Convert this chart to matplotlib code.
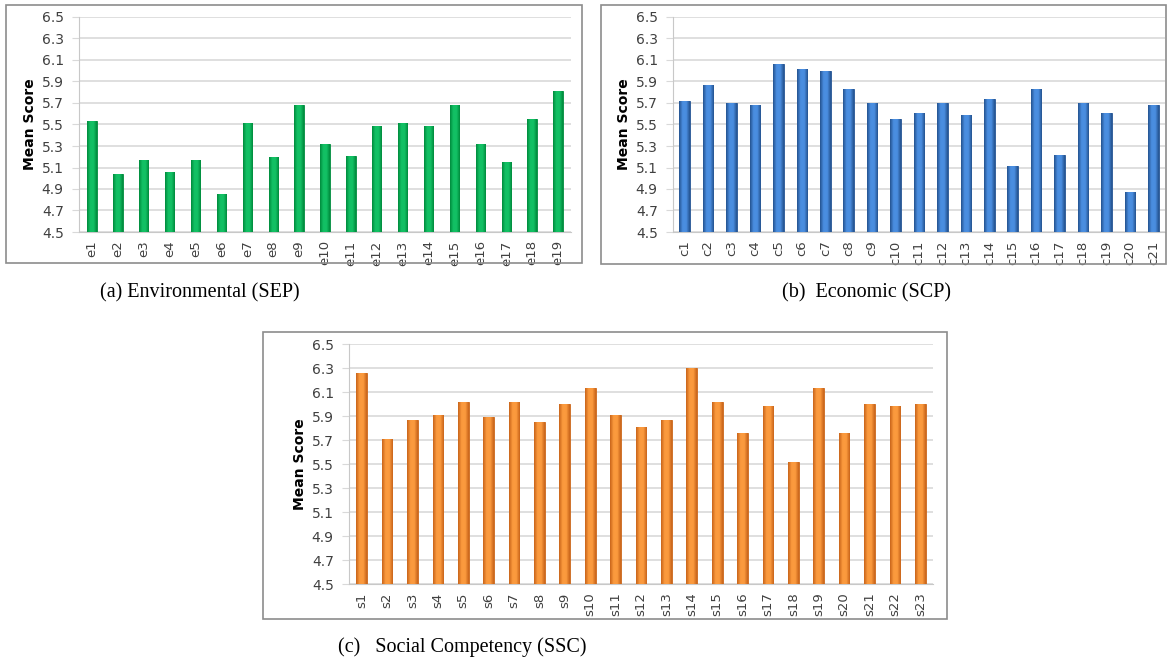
import numpy as np
import matplotlib
matplotlib.use("Agg")
from matplotlib import pyplot as plt
from matplotlib.colors import LinearSegmentedColormap
from matplotlib.patches import Rectangle

# Mean scores
env_labels = ["e%d" % i for i in range(1, 20)]
env_values = [5.53, 5.04, 5.17, 5.06, 5.17, 4.85, 5.51, 5.20, 5.68, 5.32,
              5.21, 5.49, 5.51, 5.49, 5.68, 5.32, 5.15, 5.55, 5.81]

eco_labels = ["c%d" % i for i in range(1, 22)]
eco_values = [5.72, 5.87, 5.70, 5.68, 6.06, 6.02, 6.00, 5.83, 5.70, 5.55,
              5.61, 5.70, 5.59, 5.74, 5.11, 5.83, 5.22, 5.70, 5.61, 4.87, 5.68]

soc_labels = ["s%d" % i for i in range(1, 24)]
soc_values = [6.26, 5.71, 5.87, 5.91, 6.02, 5.89, 6.02, 5.85, 6.00, 6.13,
              5.91, 5.81, 5.87, 6.30, 6.02, 5.76, 5.98, 5.52, 6.13, 5.76,
              6.00, 5.98, 6.00]

yticks = [4.5, 4.7, 4.9, 5.1, 5.3, 5.5, 5.7, 5.9, 6.1, 6.3, 6.5]

W, H = 1167, 663
fig = plt.figure(figsize=(W / 100, H / 100), dpi=100)


def px_axes(x0, y0, x1, y1):
    return fig.add_axes([x0 / W, 1 - y1 / H, (x1 - x0) / W, (y1 - y0) / H])


def frame(x0, y0, x1, y1):
    fig.patches.append(Rectangle((x0 / W, 1 - y1 / H), (x1 - x0) / W, (y1 - y0) / H,
                                 transform=fig.transFigure, fill=False,
                                 edgecolor="#8c8c8c", lw=1.2, zorder=0))


def cylinder_bars(ax, labels, values, dark, light, width):
    cmap = LinearSegmentedColormap.from_list("c", [dark, light, light, dark])
    grad = np.linspace(0, 1, 64).reshape(1, -1)
    x = np.arange(len(values))
    bars = ax.bar(x, np.array(values) - 4.5, bottom=4.5, width=width,
                  color=light, edgecolor=dark, lw=0.6, zorder=3)
    for b in bars:
        im = ax.imshow(grad, cmap=cmap, aspect="auto", zorder=3,
                       extent=(b.get_x(), b.get_x() + b.get_width(), 4.5, b.get_y() + b.get_height()))
        im.set_clip_path(b)
    ax.set_xlim(-0.5, len(values) - 0.5)
    ax.set_ylim(4.5, 6.5)
    ax.set_yticks(yticks)
    ax.set_yticklabels(["%.1f" % t for t in yticks], fontsize=10, color="#404040")
    ax.set_xticks(x)
    ax.set_xticklabels(labels, rotation=90, fontsize=9.5, color="#404040")
    ax.tick_params(axis="x", length=0, pad=6)
    ax.tick_params(axis="y", length=5, color="#d9d9d9", pad=6)
    ax.grid(axis="y", color="#d9d9d9", lw=1.2, zorder=0)
    for s in ["top", "right"]:
        ax.spines[s].set_visible(False)
    ax.spines["left"].set_color("#c8c8c8")
    ax.spines["bottom"].set_color("#c8c8c8")
    ax.set_ylabel("Mean Score", fontsize=10, fontweight="bold", labelpad=3)


serif = "Liberation Serif"

# (a) Environmental
frame(6, 5, 582, 263)
ax1 = px_axes(79, 17, 571, 232)
cylinder_bars(ax1, env_labels, env_values, "#008a3c", "#12c064", 0.36)
fig.text(100 / W, 1 - 293 / H, "(a) Environmental (SEP)", family=serif,
         fontsize=14.5, va="center", ha="left")

# (b) Economic
frame(601, 5, 1166, 264)
ax2 = px_axes(673, 17, 1165, 232)
cylinder_bars(ax2, eco_labels, eco_values, "#24528f", "#4a8ee0", 0.45)
fig.text(782 / W, 1 - 293 / H, "(b)  Economic (SCP)", family=serif,
         fontsize=14.5, va="center", ha="left")

# (c) Social Competency
frame(263, 332, 947, 619)
ax3 = px_axes(349, 344, 933, 584)
cylinder_bars(ax3, soc_labels, soc_values, "#c8641a", "#fb9a3e", 0.42)
fig.text(338 / W, 1 - 647 / H, "(c)   Social Competency (SSC)", family=serif,
         fontsize=14.5, va="center", ha="left")

fig.savefig("out.png", dpi=100)
